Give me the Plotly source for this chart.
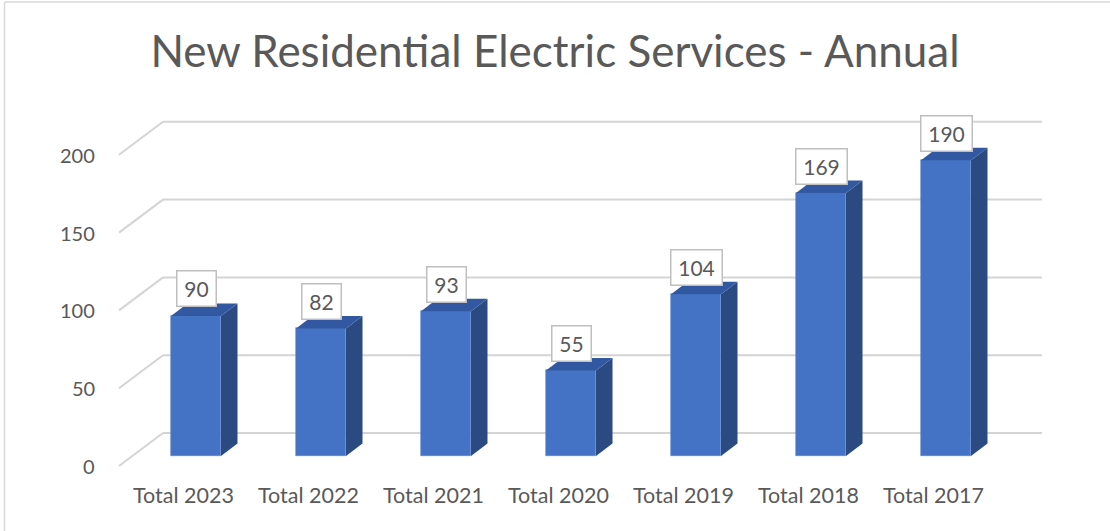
import plotly.graph_objects as go

# ---- data ----
categories = ["Total 2023", "Total 2022", "Total 2021", "Total 2020", "Total 2019", "Total 2018", "Total 2017"]
values = [90, 82, 93, 55, 104, 169, 190]
y_ticks = [0, 50, 100, 150, 200]
title_text = "New Residential Electric Services - Annual"

# ---- layout constants (pixels) ----
W, H = 1110, 531
L, R, T, B = 110, 1080, 100, 480          # plot area in pixels
X0_PX, X_STEP = 196, 125                   # centre of first bar front, spacing
Y0_PX, Y_SCALE = 456, 1.556                # baseline of bar fronts, px per unit
BAR_W = 50 / X_STEP
DEPTH_DX, DEPTH_DY = 16.5 / X_STEP, 12.5 / Y_SCALE
BACK_DX, BACK_DY = -33 / X_STEP, 23 / Y_SCALE      # back wall relative to bar front plane
FRONT_DY = -10 / Y_SCALE                           # front edge of floor/axis
GRID_END = (1042 - X0_PX) / X_STEP

FONT = "Lato"
TXT = "#595959"
GRID = "#D4D4D4"
FRONT_C, SIDE_C, TOP_C = "#4472C4", "#2B4A82", "#3158A0"

x_range = [(L - X0_PX) / X_STEP, (R - X0_PX) / X_STEP]
y_range = [(Y0_PX - B) / Y_SCALE, (Y0_PX - T) / Y_SCALE]

xs = list(range(len(categories)))

fig = go.Figure()

# front faces
fig.add_trace(go.Bar(x=xs, y=values, width=BAR_W, marker=dict(color=FRONT_C, line=dict(width=0.6, color="#5B85D0")),
                     hoverinfo="skip", showlegend=False))

shapes = []
# gridlines (back wall + floor diagonal)
for v in y_ticks:
    shapes.append(dict(type="line", xref="x", yref="y", layer="below",
                       x0=BACK_DX, y0=v + BACK_DY, x1=GRID_END, y1=v + BACK_DY,
                       line=dict(color=GRID, width=2)))
    shapes.append(dict(type="line", xref="x", yref="y", layer="below",
                       x0=(119 - X0_PX) / X_STEP, y0=v + FRONT_DY, x1=BACK_DX, y1=v + BACK_DY,
                       line=dict(color=GRID, width=2)))

# side and top faces
for x, v in zip(xs, values):
    r = x + BAR_W / 2
    l = x - BAR_W / 2
    side = f"M {r},0 L {r + DEPTH_DX},{DEPTH_DY} L {r + DEPTH_DX},{v + DEPTH_DY} L {r},{v} Z"
    top = f"M {l},{v} L {r},{v} L {r + DEPTH_DX},{v + DEPTH_DY} L {l + DEPTH_DX},{v + DEPTH_DY} Z"
    shapes.append(dict(type="path", xref="x", yref="y", path=side, fillcolor=SIDE_C, line=dict(width=0), layer="above"))
    shapes.append(dict(type="path", xref="x", yref="y", path=top, fillcolor=TOP_C, line=dict(width=0), layer="above"))

# outer border (left + top)
shapes.append(dict(type="line", xref="paper", yref="paper",
                   x0=(4.5 - L) / (R - L), x1=(W + 5 - L) / (R - L),
                   y0=(B - 2) / (B - T), y1=(B - 2) / (B - T), line=dict(color="#D9D9D9", width=1.5)))
shapes.append(dict(type="line", xref="paper", yref="paper",
                   x0=(4.5 - L) / (R - L), x1=(4.5 - L) / (R - L),
                   y0=(B - 2) / (B - T), y1=(B - H - 5) / (B - T), line=dict(color="#D9D9D9", width=1.5)))

annotations = []
# data labels
for x, v in zip(xs, values):
    n = len(str(v))
    annotations.append(dict(x=x, y=v + 27 / Y_SCALE, xref="x", yref="y", text=str(v), showarrow=False,
                            xanchor="center", yanchor="middle", width=12 * n + 10, height=30,
                            bgcolor="white", bordercolor="#BFBFBF", borderwidth=1.5, borderpad=2,
                            font=dict(family=FONT, size=21, color=TXT)))
# y tick labels
for v in y_ticks:
    ypx = Y0_PX + 10 - v * Y_SCALE
    annotations.append(dict(x=(97 - L) / (R - L), y=(B - ypx) / (B - T), xref="paper", yref="paper",
                            text=str(v), showarrow=False, xanchor="right", yanchor="middle",
                            font=dict(family=FONT, size=20, color=TXT)))
# category labels
for x, c in zip(xs, categories):
    annotations.append(dict(x=x - 13 / X_STEP, y=(B - 495) / (B - T), xref="x", yref="paper",
                            text=c, showarrow=False, xanchor="center", yanchor="middle",
                            font=dict(family=FONT, size=21.5, color=TXT)))

fig.update_layout(
    width=W, height=H, autosize=False,
    margin=dict(l=L, r=W - R, t=T, b=H - B),
    paper_bgcolor="white", plot_bgcolor="white",
    title=dict(text=title_text, x=0.5, xref="container", xanchor="center",
               y=1 - 52 / H, yref="container", yanchor="middle",
               font=dict(family=FONT, size=44, color=TXT)),
    xaxis=dict(range=x_range, visible=False, fixedrange=True),
    yaxis=dict(range=y_range, visible=False, fixedrange=True),
    shapes=shapes, annotations=annotations, showlegend=False,
    bargap=0,
)

fig.write_html("out.html", config={"displayModeBar": False},
               post_script="document.body.style.margin='0';document.body.style.overflow='hidden';")
